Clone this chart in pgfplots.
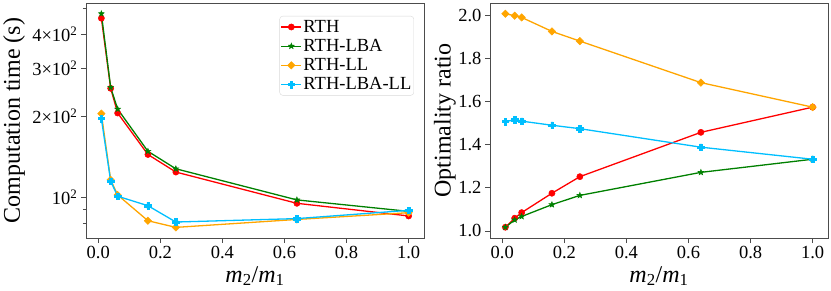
\documentclass[border=0pt]{standalone}
\usepackage{fontspec}
\setmainfont{Liberation Serif}
\usepackage{pgfplots}
\pgfplotsset{compat=1.18}

\definecolor{cRTH}{RGB}{255,0,0}
\definecolor{cLBA}{RGB}{0,128,0}
\definecolor{cLL}{RGB}{255,165,0}
\definecolor{cLBALL}{RGB}{0,191,255}

\pgfdeclareplotmark{mystar}{%
  \pgfpathmoveto{\pgfpointpolar{90}{\pgfplotmarksize}}%
  \pgfpathlineto{\pgfpointpolar{126}{0.42\pgfplotmarksize}}%
  \pgfpathlineto{\pgfpointpolar{162}{\pgfplotmarksize}}%
  \pgfpathlineto{\pgfpointpolar{198}{0.42\pgfplotmarksize}}%
  \pgfpathlineto{\pgfpointpolar{234}{\pgfplotmarksize}}%
  \pgfpathlineto{\pgfpointpolar{270}{0.42\pgfplotmarksize}}%
  \pgfpathlineto{\pgfpointpolar{306}{\pgfplotmarksize}}%
  \pgfpathlineto{\pgfpointpolar{342}{0.42\pgfplotmarksize}}%
  \pgfpathlineto{\pgfpointpolar{18}{\pgfplotmarksize}}%
  \pgfpathlineto{\pgfpointpolar{54}{0.42\pgfplotmarksize}}%
  \pgfpathclose\pgfusepathqfillstroke}
\pgfdeclareplotmark{mydiamond}{%
  \pgfpathmoveto{\pgfpoint{0pt}{\pgfplotmarksize}}%
  \pgfpathlineto{\pgfpoint{\pgfplotmarksize}{0pt}}%
  \pgfpathlineto{\pgfpoint{0pt}{-\pgfplotmarksize}}%
  \pgfpathlineto{\pgfpoint{-\pgfplotmarksize}{0pt}}%
  \pgfpathclose\pgfusepathqfillstroke}
\pgfdeclareplotmark{myplus}{%
  \pgfpathmoveto{\pgfpoint{-0.35\pgfplotmarksize}{\pgfplotmarksize}}%
  \pgfpathlineto{\pgfpoint{0.35\pgfplotmarksize}{\pgfplotmarksize}}%
  \pgfpathlineto{\pgfpoint{0.35\pgfplotmarksize}{0.35\pgfplotmarksize}}%
  \pgfpathlineto{\pgfpoint{\pgfplotmarksize}{0.35\pgfplotmarksize}}%
  \pgfpathlineto{\pgfpoint{\pgfplotmarksize}{-0.35\pgfplotmarksize}}%
  \pgfpathlineto{\pgfpoint{0.35\pgfplotmarksize}{-0.35\pgfplotmarksize}}%
  \pgfpathlineto{\pgfpoint{0.35\pgfplotmarksize}{-\pgfplotmarksize}}%
  \pgfpathlineto{\pgfpoint{-0.35\pgfplotmarksize}{-\pgfplotmarksize}}%
  \pgfpathlineto{\pgfpoint{-0.35\pgfplotmarksize}{-0.35\pgfplotmarksize}}%
  \pgfpathlineto{\pgfpoint{-\pgfplotmarksize}{-0.35\pgfplotmarksize}}%
  \pgfpathlineto{\pgfpoint{-\pgfplotmarksize}{0.35\pgfplotmarksize}}%
  \pgfpathlineto{\pgfpoint{-0.35\pgfplotmarksize}{0.35\pgfplotmarksize}}%
  \pgfpathclose\pgfusepathqfillstroke}

\pgfplotsset{
  base/.style={
    scale only axis, width=338pt, height=235pt,
    xmin=-0.0395, xmax=1.0495,
    axis line style={black!70, line width=0.8pt},
    tick style={black!70, line width=0.8pt},
    tick align=outside, tick pos=left,
    major tick length=5pt, minor tick length=3pt,
    xtick={0,0.2,0.4,0.6,0.8,1.0},
    xticklabels={0.0,0.2,0.4,0.6,0.8,1.0},
    ticklabel style={font=\fontsize{18.5}{20}\selectfont},
    label style={font=\fontsize{24}{28}\selectfont},
    xlabel={\textit{m}\textsubscript{2}/\textit{m}\textsubscript{1}},
    xlabel style={at={([yshift=-38pt]axis description cs:0.5,0)}, anchor=center},
    every axis plot/.append style={line width=1.3pt},
  },
  sRTH/.style={color=cRTH, mark=*, mark size=3.1pt, mark options={line width=0.5pt}},
  sLBA/.style={color=cLBA, mark=mystar, mark size=3pt, mark options={line width=0.5pt}},
  sLL/.style={color=cLL, mark=mydiamond, mark size=3.7pt, mark options={line width=0.5pt}},
  sLBALL/.style={color=cLBALL, mark=myplus, mark size=3.3pt, mark options={line width=0.5pt}},
}

\begin{document}
\begin{tikzpicture}
\begin{axis}[base,
  at={(0pt,0pt)}, anchor=south west,
  ymode=log, ymin=70.7, ymax=523.6,
  ytick={100,200,300,400},
  yticklabels={10\textsuperscript{2},2×10\textsuperscript{2},3×10\textsuperscript{2},4×10\textsuperscript{2}},
  minor ytick={80,90,500},
  ylabel={Computation time (s)},
  ylabel style={at={([xshift=-72pt]axis description cs:0,0.5)}, anchor=center},
  legend style={at={(1,1)}, anchor=north east, xshift=-10pt, yshift=-13pt,
    draw=black!15, rounded corners=3pt, font=\fontsize{18.5}{21}\selectfont,
    inner xsep=1pt, inner ysep=2pt, row sep=1.5pt,
    nodes={inner xsep=1.5pt}},
  legend cell align=left,
  legend image code/.code={\draw[mark repeat=2,mark phase=2] plot coordinates {(0pt,0pt) (10pt,0pt) (20pt,0pt)};},
]
\addplot[sRTH] coordinates {(0.01,460) (0.04,253) (0.0625,205) (0.16,144) (0.25,124) (0.64,95) (1.0,85.3)};
\addlegendentry{RTH}
\addplot[sLBA] coordinates {(0.01,478) (0.04,255) (0.0625,212) (0.16,148) (0.25,127.5) (0.64,97.8) (1.0,88.7)};
\addlegendentry{RTH-LBA}
\addplot[sLL] coordinates {(0.01,204) (0.04,116) (0.0625,102) (0.16,81.9) (0.25,77.4) (0.64,82.8) (1.0,87.7)};
\addlegendentry{RTH-LL}
\addplot[sLBALL] coordinates {(0.01,195.6) (0.04,114.7) (0.0625,100.9) (0.16,93.1) (0.25,81) (0.64,83.4) (1.0,89.5)};
\addlegendentry{RTH-LBA-LL}
\end{axis}

\begin{axis}[base,
  at={(404pt,0pt)}, anchor=south west,
  ymin=0.967, ymax=2.059,
  ytick={1.0,1.2,1.4,1.6,1.8,2.0},
  yticklabels={1.0,1.2,1.4,1.6,1.8,2.0},
  ylabel={Optimality ratio},
  ylabel style={at={([xshift=-45pt]axis description cs:0,0.5)}, anchor=center},
]
\addplot[sRTH] coordinates {(0.01,1.017) (0.04,1.059) (0.0625,1.085) (0.16,1.175) (0.25,1.252) (0.64,1.458) (1.0,1.575)};
\addplot[sLBA] coordinates {(0.01,1.017) (0.04,1.051) (0.0625,1.067) (0.16,1.122) (0.25,1.165) (0.64,1.272) (1.0,1.333)};
\addplot[sLL] coordinates {(0.01,2.009) (0.04,2.000) (0.0625,1.992) (0.16,1.927) (0.25,1.882) (0.64,1.689) (1.0,1.575)};
\addplot[sLBALL] coordinates {(0.01,1.508) (0.04,1.516) (0.0625,1.510) (0.16,1.491) (0.25,1.475) (0.64,1.389) (1.0,1.333)};
\end{axis}
\pgfresetboundingbox
\path[use as bounding box] (-86pt,-52pt) rectangle (745pt,238pt);
\end{tikzpicture}
\end{document}
